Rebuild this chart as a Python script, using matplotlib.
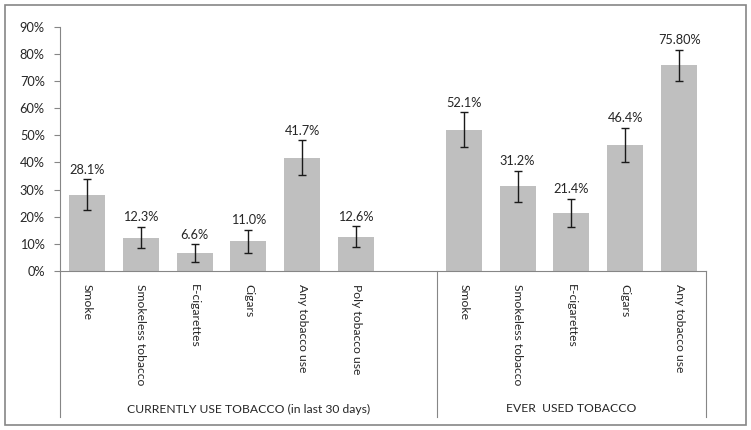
import matplotlib
matplotlib.use("Agg")
import matplotlib.pyplot as plt
from matplotlib.patches import Rectangle
import matplotlib.transforms as mtransforms

plt.rcParams['font.family'] = ['Lato', 'DejaVu Sans']

categories_current = ["Smoke", "Smokeless tobacco", "E-cigarettes", "Cigars", "Any tobacco use", "Poly tobacco use"]
values_current = [28.1, 12.3, 6.6, 11.0, 41.7, 12.6]
errors_current = [5.7, 4.0, 3.2, 4.2, 6.4, 3.8]
labels_current = ["28.1%", "12.3%", "6.6%", "11.0%", "41.7%", "12.6%"]

categories_ever = ["Smoke", "Smokeless tobacco", "E-cigarettes", "Cigars", "Any tobacco use"]
values_ever = [52.1, 31.2, 21.4, 46.4, 75.8]
errors_ever = [6.3, 5.8, 5.3, 6.4, 5.7]
labels_ever = ["52.1%", "31.2%", "21.4%", "46.4%", "75.80%"]

group_labels = ["CURRENTLY USE TOBACCO (in last 30 days)", "EVER  USED TOBACCO"]
yticks = [0, 10, 20, 30, 40, 50, 60, 70, 80, 90]

FS = 8.7
FS_LAB = 9.2
fig = plt.figure(figsize=(7.51, 4.30), dpi=100)
W, H = 751, 430
ax = fig.add_axes([60 / W, 1 - 271 / H, (706 - 60) / W, (271 - 26.7) / H])

x1 = list(range(len(categories_current)))
x2 = [len(categories_current) + 1 + i for i in range(len(categories_ever))]
xs = x1 + x2
vals = values_current + values_ever
errs = errors_current + errors_ever
labs = labels_current + labels_ever
cats = categories_current + categories_ever

ax.bar(xs, vals, width=0.67, color="#BFBFBF", zorder=2)
ax.errorbar(xs, vals, yerr=errs, fmt="none", ecolor="#1a1a1a", elinewidth=1.0,
            capsize=2.6, capthick=1.0, zorder=3)
for x, v, e, l in zip(xs, vals, errs, labs):
    ax.annotate(l, (x, v + e), xytext=(0, 2.5), textcoords="offset points",
                ha="center", va="bottom", fontsize=FS_LAB, color="#262626")

n = len(categories_current) + 1 + len(categories_ever)
ax.set_xlim(-0.5, n - 0.5)
ax.set_ylim(0, 90)
ax.set_yticks(yticks)
ax.set_yticklabels([f"{t}%" for t in yticks], fontsize=FS_LAB, color="#262626")
ax.set_xticks(xs)
ax.set_xticklabels(cats, rotation=270, fontsize=FS, color="#262626", va="top", ha="center")
ax.tick_params(axis="x", length=0, pad=9)
ax.tick_params(axis="y", length=4, width=0.8, color="#868686", direction="out", pad=7)

for s in ["top", "right"]:
    ax.spines[s].set_visible(False)
for s in ["left", "bottom"]:
    ax.spines[s].set_color("#868686")
    ax.spines[s].set_linewidth(0.8)

trans = mtransforms.blended_transform_factory(ax.transData, ax.transAxes)
ybot = -(417 - 271) / (271 - 26.7)
sep = len(categories_current) + 0.5
for xb in [-0.5, sep, n - 0.5]:
    ax.plot([xb, xb], [0, ybot], transform=trans, color="#868686", lw=0.8, clip_on=False)

ylab = -(409 - 271) / (271 - 26.7)
ax.text((-0.5 + sep) / 2, ylab, group_labels[0], transform=trans, ha="center", va="center",
        fontsize=FS, color="#262626")
ax.text((sep + n - 0.5) / 2, ylab, group_labels[1], transform=trans, ha="center", va="center",
        fontsize=FS, color="#262626")

fig.patches.append(Rectangle((5 / W, 5 / H), 741 / W, 420 / H, transform=fig.transFigure,
                             fill=False, edgecolor="#868686", lw=1.2))

fig.savefig("out.png", dpi=100, facecolor="white")
